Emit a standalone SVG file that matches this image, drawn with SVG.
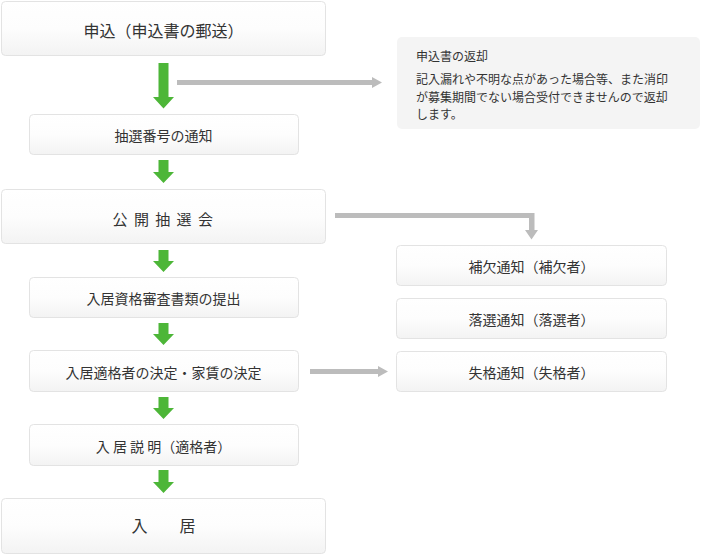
<svg xmlns="http://www.w3.org/2000/svg" width="701" height="555" viewBox="0 0 701 555">
<defs>
<linearGradient id="bg" x1="0" y1="0" x2="0" y2="1">
<stop offset="0" stop-color="#ffffff"/>
<stop offset="0.5" stop-color="#fdfdfd"/>
<stop offset="1" stop-color="#f3f3f3"/>
</linearGradient>
<style>
.box{fill:url(#bg);stroke:#e3e3e3;stroke-width:1}
.t{font-family:"Noto Sans CJK JP","Noto Sans",sans-serif;fill:#333333;text-anchor:middle}
.t14{font-size:14px}
.n{font-family:"Noto Sans CJK JP","Noto Sans",sans-serif;fill:#333333;font-size:12px}
.green{fill:#4db638}
.gray{fill:#bcbcbc}
</style>
</defs>
<rect width="701" height="555" fill="#ffffff"/>

<g id="connectors">
<path class="green" d="M158.5,63 H168.5 V97 H174 L163.5,108.5 L153,97 H158.5 Z"/>
<path class="green" d="M158.5,160 H168.5 V172 H174 L163.5,183 L153,172 H158.5 Z"/>
<path class="green" d="M158.5,250 H168.5 V261 H174 L163.5,272 L153,261 H158.5 Z"/>
<path class="green" d="M158.5,323 H168.5 V334 H174 L163.5,345 L153,334 H158.5 Z"/>
<path class="green" d="M158.5,397 H168.5 V408 H174 L163.5,419 L153,408 H158.5 Z"/>
<path class="green" d="M158.5,470 H168.5 V482 H174 L163.5,493 L153,482 H158.5 Z"/>
<path class="gray" d="M177,80 H372 V77 L382,82.5 L372,88 V85 H177 Z"/>
<path class="gray" d="M335,213 H534.5 V230 H538 L531.5,239.5 L525,230 H529 V218 H335 Z"/>
<path class="gray" d="M310,369 H378 V366 L388,371.5 L378,377 V374 H310 Z"/>
</g>

<g id="n1"><rect class="box" x="1.5" y="1.5" width="324" height="54" rx="4"/><text class="t" x="163.5" y="37" font-size="16">申込（申込書の郵送）</text></g>
<g id="n2"><rect class="box" x="29.5" y="114.5" width="269" height="40" rx="4"/><text class="t t14" x="163.5" y="141">抽選番号の通知</text></g>
<g id="n3"><rect class="box" x="1.5" y="189.5" width="324" height="54" rx="4"/><text class="t" x="163.5" y="225" font-size="15" letter-spacing="1.5">公 開 抽 選 会</text></g>
<g id="n4"><rect class="box" x="29.5" y="277.5" width="269" height="40" rx="4"/><text class="t t14" x="163.5" y="304">入居資格審査書類の提出</text></g>
<g id="n5"><rect class="box" x="29.5" y="350.5" width="269" height="41" rx="4"/><text class="t t14" x="163.5" y="377.5">入居適格者の決定・家賃の決定</text></g>
<g id="n6"><rect class="box" x="29.5" y="424.5" width="269" height="41" rx="4"/><text class="t t14" x="163.5" y="451.5">入 居 説 明（適格者）</text></g>
<g id="n7"><rect class="box" x="1.5" y="498.5" width="324" height="55" rx="4"/><text class="t" x="163.5" y="532" font-size="16">入　　居</text></g>

<g id="note"><rect x="397" y="37" width="303" height="92" rx="5" fill="#f4f4f4"/>
<text class="n" x="416" y="61">申込書の返却</text>
<text class="n" x="416" y="84">記入漏れや不明な点があった場合等、また消印</text>
<text class="n" x="416" y="101.5">が募集期間でない場合受付できませんので返却</text>
<text class="n" x="416" y="119">します。</text>
</g>

<g id="r1"><rect class="box" x="396.5" y="245.5" width="270" height="40" rx="4"/><text class="t t14" x="531.5" y="272">補欠通知（補欠者）</text></g>
<g id="r2"><rect class="box" x="396.5" y="298.5" width="270" height="40" rx="4"/><text class="t t14" x="531.5" y="325">落選通知（落選者）</text></g>
<g id="r3"><rect class="box" x="396.5" y="351.5" width="270" height="40" rx="4"/><text class="t t14" x="531.5" y="377.5">失格通知（失格者）</text></g>
</svg>
